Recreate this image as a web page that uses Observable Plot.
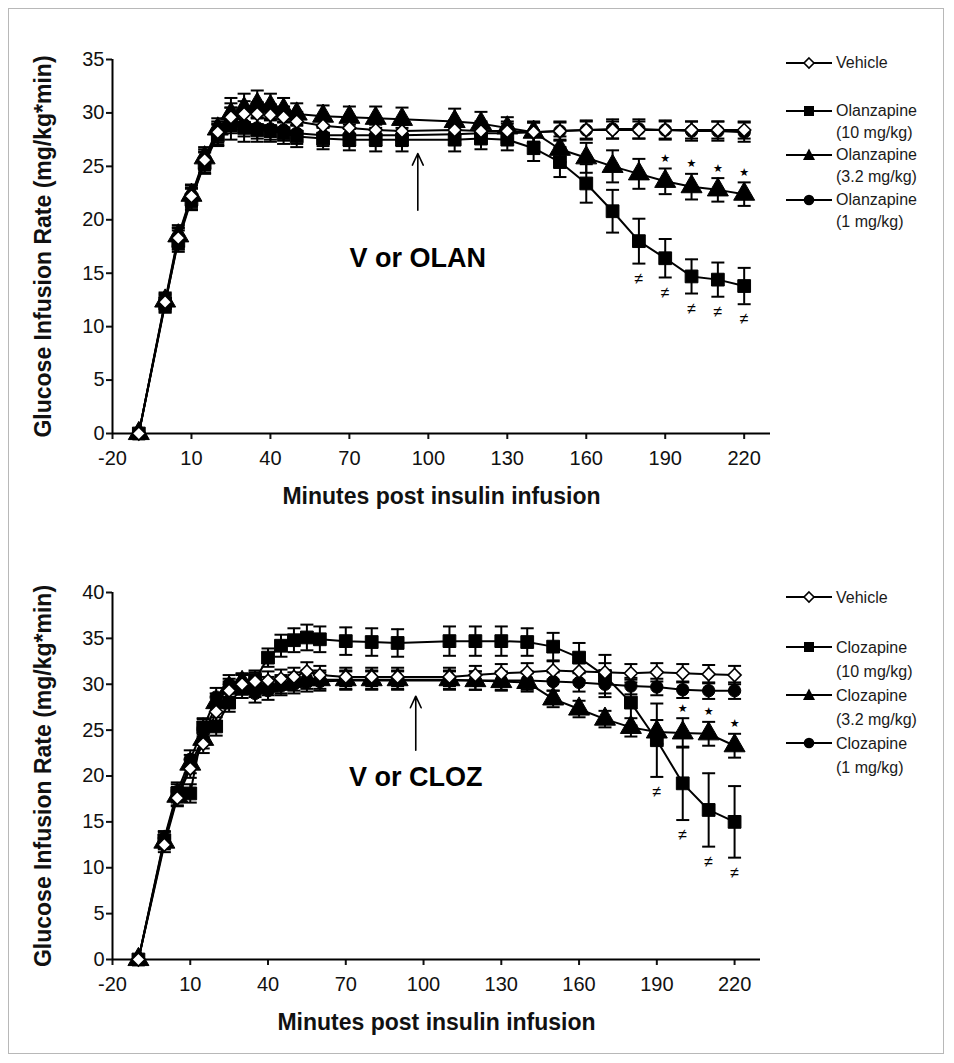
<!DOCTYPE html>
<html>
<head>
<meta charset="utf-8">
<script src="https://cdn.jsdelivr.net/npm/d3@7"></script>
<script src="https://cdn.jsdelivr.net/npm/@observablehq/plot@0.6"></script>
<style>
  html, body { margin: 0; padding: 0; background: #fff; }
  body { font-family: "Liberation Sans", Arial, Helvetica, sans-serif; }
  #wrap { position: relative; width: 954px; height: 1063px; overflow: hidden; }
  .border { position: absolute; left: 8px; top: 8px; width: 936px; height: 1046px; border: 1px solid #b8b8b8; box-sizing: border-box; }
  .panel { position: absolute; left: 0; }
  .leg { position: absolute; left: 786px; font-size: 16px; color: #1a1a1a; }
  .leg svg { position: absolute; left: 0; top: 1px; }
  .leg .txt { position: absolute; left: 50px; top: 0; white-space: nowrap; line-height: 22px; }
  svg [aria-label="y-axis label"], svg [aria-label="x-axis label"] { font-weight: bold; font-size: 23px; }
</style>
</head>
<body>
<div id="wrap">
  <div class="border"></div>
</div>
<script>
// ---------------- DATA ----------------
const xTicks = [-20, 10, 40, 70, 100, 130, 160, 190, 220];
const yTicksTop = [0, 5, 10, 15, 20, 25, 30, 35];
const yTicksBottom = [0, 5, 10, 15, 20, 25, 30, 35, 40];

// Top panel: Olanzapine
const timesTop = [-10, 0, 5, 10, 15, 20, 25, 30, 35, 40, 45, 50, 60, 70, 80, 90, 110, 120, 130, 140, 150, 160, 170, 180, 190, 200, 210, 220];
const vehicleTop    = [0, 12.3, 18.3, 22.2, 25.6, 28.2, 29.6, 29.9, 29.9, 29.8, 29.6, 29.2, 28.8, 28.6, 28.4, 28.3, 28.4, 28.3, 28.3, 28.2, 28.3, 28.4, 28.4, 28.4, 28.4, 28.4, 28.4, 28.4];
const vehicleTopSem = [0, 0.8, 1.0, 1.0, 1.0, 1.0, 1.3, 1.2, 1.1, 1.0, 1.0, 0.9, 0.9, 0.9, 0.9, 0.9, 0.9, 0.9, 0.9, 0.9, 0.8, 0.8, 0.8, 0.8, 0.8, 0.8, 0.8, 0.8];
const olan10    = [0, 12.2, 18.0, 21.9, 25.3, 27.9, 29.0, 28.6, 28.4, 28.3, 28.1, 27.8, 27.6, 27.5, 27.5, 27.5, 27.5, 27.6, 27.5, 26.7, 25.4, 23.4, 20.8, 18.0, 16.4, 14.7, 14.4, 13.8];
const olan10Sem = [0, 0.8, 1.0, 1.0, 1.0, 1.0, 1.5, 1.3, 1.1, 1.0, 1.0, 1.0, 1.0, 1.0, 1.1, 1.1, 1.1, 1.0, 1.0, 1.2, 1.4, 1.8, 2.0, 2.1, 1.8, 1.6, 1.6, 1.7];
const olan32    = [0, 12.4, 18.5, 22.3, 25.8, 28.5, 29.9, 30.4, 30.8, 30.6, 30.3, 29.9, 29.7, 29.6, 29.5, 29.4, 29.2, 29.0, 28.6, 28.2, 26.6, 25.8, 25.0, 24.3, 23.6, 23.1, 22.8, 22.4];
const olan32Sem = [0, 0.8, 1.0, 1.0, 1.0, 1.0, 1.5, 1.4, 1.3, 1.2, 1.1, 1.0, 1.0, 1.0, 1.1, 1.1, 1.2, 1.1, 1.0, 1.0, 1.2, 1.4, 1.5, 1.4, 1.2, 1.2, 1.1, 1.1];
const olan1     = [0, 12.1, 18.2, 22.0, 25.4, 28.0, 29.3, 28.9, 28.6, 28.5, 28.4, 28.1, 27.9, 27.9, 27.9, 27.9, 28.0, 28.1, 28.1, 28.2, 28.3, 28.4, 28.5, 28.5, 28.4, 28.3, 28.3, 28.2];
const olan1Sem  = [0, 0.8, 1.0, 1.0, 1.0, 1.0, 1.2, 1.1, 1.0, 1.0, 1.0, 1.0, 1.0, 1.0, 1.0, 1.0, 0.9, 0.9, 0.9, 0.9, 0.9, 0.9, 0.9, 0.9, 0.9, 0.9, 0.9, 0.9];
const starTimesTop = [190, 200, 210, 220];        // Olanzapine 3.2 vs vehicle
const neqTimesTop  = [180, 190, 200, 210, 220];   // Olanzapine 10 vs vehicle
const arrowTop = {t: 96, from: 20.9, to: 26.2, textY: 16.4, text: "V or OLAN"};

// Bottom panel: Clozapine
const timesBottom = [-10, 0, 5, 10, 15, 20, 25, 30, 35, 40, 45, 50, 55, 60, 70, 80, 90, 110, 120, 130, 140, 150, 160, 170, 180, 190, 200, 210, 220];
const vehicleBottom    = [0, 12.5, 17.6, 20.8, 23.5, 27.0, 29.3, 30.0, 30.3, 30.4, 30.6, 30.8, 31.4, 31.0, 30.8, 30.8, 30.8, 30.8, 31.0, 31.2, 31.3, 31.5, 31.4, 31.3, 31.2, 31.3, 31.2, 31.1, 31.0];
const vehicleBottomSem = [0, 0.8, 0.9, 1.0, 1.0, 1.0, 1.0, 1.0, 1.0, 1.0, 1.0, 1.0, 1.0, 1.0, 1.0, 1.0, 1.0, 1.0, 1.0, 1.0, 1.0, 1.0, 1.0, 1.0, 1.0, 1.0, 1.0, 1.0, 1.0];
const cloz10    = [0, 13.0, 18.1, 18.1, 25.3, 25.4, 28.0, 29.5, 30.5, 32.9, 34.2, 34.8, 35.1, 34.9, 34.7, 34.6, 34.5, 34.7, 34.7, 34.7, 34.6, 34.1, 32.9, 30.9, 28.0, 23.9, 19.2, 16.3, 15.0];
const cloz10Sem = [0, 0.9, 1.0, 1.0, 1.0, 1.0, 1.0, 1.0, 1.0, 1.0, 1.2, 1.3, 1.4, 1.4, 1.5, 1.5, 1.5, 1.6, 1.6, 1.6, 1.5, 1.5, 1.6, 2.3, 2.5, 4.0, 4.0, 4.0, 3.9];
const cloz32    = [0, 12.8, 17.8, 21.3, 24.0, 28.0, 29.6, 30.2, 29.6, 29.8, 30.0, 30.3, 30.5, 30.5, 30.5, 30.5, 30.5, 30.5, 30.4, 30.3, 30.2, 28.4, 27.3, 26.2, 25.3, 24.8, 24.7, 24.6, 23.3];
const cloz32Sem = [0, 0.8, 1.0, 1.0, 1.0, 1.0, 1.0, 1.0, 1.0, 1.0, 1.0, 1.0, 1.0, 1.0, 1.0, 1.0, 1.0, 1.0, 1.0, 1.0, 1.0, 0.9, 0.9, 0.9, 1.0, 1.3, 1.6, 1.3, 1.3];
const cloz1     = [0, 13.2, 18.3, 21.8, 25.2, 28.6, 30.0, 30.1, 29.0, 29.3, 29.8, 30.0, 30.2, 30.3, 30.4, 30.4, 30.4, 30.4, 30.4, 30.4, 30.4, 30.3, 30.2, 30.0, 29.8, 29.7, 29.4, 29.3, 29.3];
const cloz1Sem  = [0, 0.8, 1.0, 1.0, 1.0, 1.0, 1.0, 1.0, 1.0, 1.0, 1.0, 1.0, 1.0, 1.0, 1.0, 1.0, 1.0, 1.0, 1.0, 1.0, 1.0, 1.0, 1.0, 1.0, 0.9, 0.9, 0.9, 0.9, 0.9];
const starTimesBottom = [200, 210, 220];
const neqTimesBottom  = [190, 200, 210, 220];
const arrowBottom = {t: 97, from: 22.8, to: 28.7, textY: 19.9, text: "V or CLOZ"};

const legendTopLabels = [["Vehicle"], ["Olanzapine", "(10 mg/kg)"], ["Olanzapine", "(3.2 mg/kg)"], ["Olanzapine", "(1 mg/kg)"]];
const legendBottomLabels = [["Vehicle"], ["Clozapine", "(10 mg/kg)"], ["Clozapine", "(3.2 mg/kg)"], ["Clozapine", "(1 mg/kg)"]];

(function () {
// ---------------- HELPERS ----------------
const rows = (times, vals, sems) => times.map((t, i) => ({t, v: vals[i], e: sems[i]}));

const capSymbol = {
  draw(ctx, size) { const w = Math.sqrt(size / Math.PI); ctx.moveTo(-w, 0); ctx.lineTo(w, 0); }
};
const diamondSymbol = {
  draw(ctx, size) { const r = Math.sqrt(size / 2); ctx.moveTo(0, -r); ctx.lineTo(r, 0); ctx.lineTo(0, r); ctx.lineTo(-r, 0); ctx.closePath(); }
};

const styles = {
  square:   {symbol: "square", r: 7.2, fill: "#000"},
  triangle: {symbol: "triangle", r: 7.8, fill: "#000"},
  circle:   {symbol: "circle", r: 6.2, fill: "#000"},
  diamond:  {symbol: diamondSymbol, r: 5.2, fill: "#fff"}
};

function seriesMarks(data, kind) {
  const st = styles[kind];
  const eb = data.filter(d => d.e > 0);
  return [
    Plot.line(data, {x: "t", y: "v", stroke: "#000", strokeWidth: 2}),
    Plot.ruleX(eb, {x: "t", y1: d => d.v - d.e, y2: d => d.v + d.e, stroke: "#000", strokeWidth: 2}),
    Plot.dot(eb, {x: "t", y: d => d.v + d.e, symbol: capSymbol, r: 6.5, fill: "none", stroke: "#000", strokeWidth: 2}),
    Plot.dot(eb, {x: "t", y: d => d.v - d.e, symbol: capSymbol, r: 6.5, fill: "none", stroke: "#000", strokeWidth: 2}),
    Plot.dot(data, {x: "t", y: "v", symbol: st.symbol, r: st.r, fill: st.fill, stroke: "#000", strokeWidth: kind === "diamond" ? 1.6 : 1})
  ];
}

function panel(opts) {
  const {times, vehicle, vehicleSem, s10, s10Sem, s32, s32Sem, s1, s1Sem, yMax, yTicks, arrow, starTimes, neqTimes,
         width, height, marginTop, marginBottom, marginRight} = opts;
  const dV = rows(times, vehicle, vehicleSem);
  const d10 = rows(times, s10, s10Sem);
  const d32 = rows(times, s32, s32Sem);
  const d1 = rows(times, s1, s1Sem);
  const stars = d32.filter(d => starTimes.includes(d.t));
  const neqs = d10.filter(d => neqTimes.includes(d.t));
  return Plot.plot({
    width, height, marginLeft: 112, marginRight, marginTop, marginBottom,
    x: {domain: [-20, 230]},
    y: {domain: [0, yMax]},
    style: {fontFamily: "'Liberation Sans', Arial, Helvetica, sans-serif", fontSize: "20px", color: "#111", background: "transparent", overflow: "visible"},
    marks: [
      Plot.axisY(yTicks, {tickSize: 6, tickPadding: 2, strokeWidth: 2, fontSize: 20, tickFormat: d => String(d),
        label: "Glucose Infusion Rate (mg/kg*min)", labelAnchor: "center", labelOffset: 78, labelArrow: "none"}),
      Plot.axisX(xTicks, {tickSize: 6, tickPadding: 11, strokeWidth: 2, fontSize: 20, tickFormat: d => String(d),
        label: "Minutes post insulin infusion", labelAnchor: "center", labelOffset: 70, labelArrow: "none"}),
      Plot.ruleX([-20], {y1: 0, y2: yMax, stroke: "#000", strokeWidth: 2}),
      Plot.ruleY([0], {x1: -20, x2: 230, stroke: "#000", strokeWidth: 2}),
      ...seriesMarks(d10, "square"),
      ...seriesMarks(d32, "triangle"),
      ...seriesMarks(d1, "circle"),
      ...seriesMarks(dV, "diamond"),
      Plot.text(stars, {x: "t", y: d => d.v + d.e, text: () => "★", dy: -10, fontSize: 11, fill: "#000", fontFamily: "DejaVu Sans"}),
      Plot.text(neqs, {x: "t", y: d => d.v - d.e, text: () => "≠", dy: 15, fontSize: 16, fill: "#000"}),
      Plot.arrow([arrow], {x1: "t", x2: "t", y1: "from", y2: "to", stroke: "#000", strokeWidth: 1.6, headLength: 12, headAngle: 50, insetEnd: 0, insetStart: 0}),
      Plot.text([arrow], {x: "t", y: "textY", text: "text", fontSize: 27, fontWeight: "bold", fill: "#000"})
    ]
  });
}

const markerSvg = {
  diamond: `<path d="M23,5 L28,10 L23,15 L18,10 Z" fill="#fff" stroke="#000" stroke-width="1.6"/>`,
  square: `<rect x="18" y="5" width="10" height="10" fill="#000"/>`,
  triangle: `<path d="M23,3.5 L29,15 L17,15 Z" fill="#000"/>`,
  circle: `<circle cx="23" cy="10" r="5.3" fill="#000"/>`
};
const legendKinds = ["diamond", "square", "triangle", "circle"];

function addLegend(wrap, labels, centers, lineHeight) {
  labels.forEach((lines, i) => {
    const div = document.createElement("div");
    div.className = "leg";
    div.style.top = (centers[i] - 11) + "px";
    div.innerHTML = `<svg width="46" height="20" viewBox="0 0 46 20"><line x1="0" x2="46" y1="10" y2="10" stroke="#000" stroke-width="2"/>${markerSvg[legendKinds[i]]}</svg>` +
      `<div class="txt" style="line-height:${lineHeight}px">${lines.join("<br>")}</div>`;
    wrap.appendChild(div);
  });
}

// ---------------- RENDER ----------------
const wrap = document.getElementById("wrap");

const topPlot = panel({
  times: timesTop, vehicle: vehicleTop, vehicleSem: vehicleTopSem,
  s10: olan10, s10Sem: olan10Sem, s32: olan32, s32Sem: olan32Sem, s1: olan1, s1Sem: olan1Sem,
  yMax: 35, yTicks: yTicksTop, arrow: arrowTop, starTimes: starTimesTop, neqTimes: neqTimesTop,
  width: 780, height: 508, marginTop: 59, marginBottom: 75, marginRight: 10
});
const topDiv = document.createElement("div");
topDiv.className = "panel"; topDiv.style.top = "0px";
topDiv.appendChild(topPlot);
wrap.appendChild(topDiv);

const bottomPlot = panel({
  times: timesBottom, vehicle: vehicleBottom, vehicleSem: vehicleBottomSem,
  s10: cloz10, s10Sem: cloz10Sem, s32: cloz32, s32Sem: cloz32Sem, s1: cloz1, s1Sem: cloz1Sem,
  yMax: 40, yTicks: yTicksBottom, arrow: arrowBottom, starTimes: starTimesBottom, neqTimes: neqTimesBottom,
  width: 770, height: 526, marginTop: 84, marginBottom: 75, marginRight: 10
});
const botDiv = document.createElement("div");
botDiv.className = "panel"; botDiv.style.top = "508px";
botDiv.appendChild(bottomPlot);
wrap.appendChild(botDiv);

addLegend(wrap, legendTopLabels, [63, 111, 155, 200], 22);
addLegend(wrap, legendBottomLabels, [597, 647, 695, 743], 24);
})();
</script>
</body>
</html>
